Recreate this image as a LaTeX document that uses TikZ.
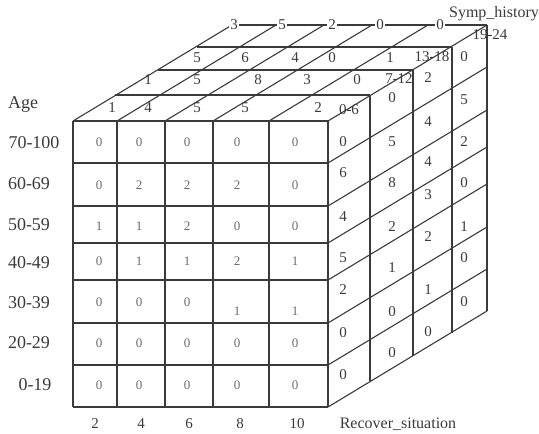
\documentclass[tikz,border=0pt]{standalone}
\usepackage{fontspec}
\setmainfont{Liberation Serif}
\definecolor{linec}{HTML}{3A3A3A}
\definecolor{numc}{HTML}{6A6A6A}
\begin{document}
\begin{tikzpicture}[x=1pt,y=-1pt,
  grid/.style={draw=linec,line width=1.1pt},
  fnum/.style={font=\fontsize{13}{13}\selectfont,text=numc,inner sep=0pt},
  snum/.style={font=\fontsize{15}{15}\selectfont,text=linec,inner sep=0pt},
  bnum/.style={font=\fontsize{15}{15}\selectfont,text=linec,inner sep=1.5pt,fill=white},
  axlab/.style={font=\fontsize{16}{16}\selectfont,text=linec,inner sep=0pt},
  agelab/.style={font=\fontsize{18}{18}\selectfont,text=linec,inner sep=0pt}]
\useasboundingbox (0,0) rectangle (539,434);

% ---- front face
\foreach \x in {73,117,165,213,269,328} \draw[grid] (\x,121) -- (\x,407);
\foreach \y in {121,163,206,243,280,323,365,407} \draw[grid] (73,\y) -- (328,\y);
% ---- top face
\foreach \dx/\dy in {42/-26,85/-51,124/-74,159/-96}
  \draw[grid] (73+\dx,121+\dy) -- (328+\dx,121+\dy);
\foreach \x in {73,117,165,213,269,328} \draw[grid] (\x,121) -- ++(159,-96);
% ---- right face
\foreach \dx/\dy in {42/-26,85/-51,124/-74,159/-96}
  \draw[grid] (328+\dx,121+\dy) -- (328+\dx,407+\dy);
\foreach \y in {163,206,243,280,323,365,407} \draw[grid] (328,\y) -- ++(159,-96);

% ---- front face numbers
\foreach \y/\vals [count=\r] in {142/{0,0,0,0,0},185/{0,2,2,2,0},226/{1,1,2,0,0},261/{0,1,1,2,1},343/{0,0,0,0,0},385/{0,0,0,0,0}}{
  \foreach \v [count=\c] in \vals {
    \pgfmathsetmacro\xx{{99,139,187,237,295}[\c-1]}
    \node[fnum] (f-\r-\c) at (\xx,\y) {\v};
  }
}
\node[fnum] (g-1) at (99,302) {0};
\node[fnum] (g-2) at (139,302) {0};
\node[fnum] (g-3) at (187,302) {0};
\node[fnum] (g-4) at (237,311) {1};
\node[fnum] (g-5) at (295,311) {1};

% ---- top face numbers
\foreach \x/\y/\v [count=\i] in {112/108/1,148/108/4,197/108/5,245/108/5,318/108/2,
  148/80/1,197/80/5,258/80/8,307/80/3,357/80/0,
  197/58/5,245/58/6,295/58/4,332/58/0,390/58/1}
  \node[snum] (t-\i) at (\x,\y) {\v};
\foreach \x/\v [count=\i] in {234/3,282/5,332/2,380/0,440/0}
  \node[bnum] (b-\i) at (\x,25) {\v};

% ---- depth labels
\node[snum] (d-1) at (349,110) {0-6};
\node[snum] (d-2) at (399,79) {7-12};
\node[snum] (d-3) at (432,57) {13-18};
\node[snum] (d-4) at (490,35) {19-24};

% ---- right face numbers
\foreach \x/\y/\v [count=\i] in {
  343/142/0,343/173/6,343/217/4,343/258/5,343/290/2,343/333/0,343/375/0,
  392/98/0,392/142/5,392/183/8,392/227/2,392/268/1,392/312/0,392/353/0,
  428/78/2,428/122/4,428/162/4,428/195/3,428/237/2,428/290/1,428/332/0,
  464/57/0,464/100/5,464/142/2,464/183/0,464/227/1,464/258/0,464/302/0}
  \node[snum] (r-\i) at (\x,\y) {\v};

% ---- axis labels
\node[agelab] (age) at (23,104) {Age};
\foreach \y/\t/\x [count=\i] in {143/70-100/34,184/60-69/29,225/50-59/29,263/40-49/29,303/30-39/29,343/20-29/29,385/0-19/35}
  \node[agelab] (a-\i) at (\x,\y) {\t};
\foreach \x/\t [count=\i] in {95/2,141/4,189/6,240/8,297/10}
  \node[snum] (x-\i) at (\x,424) {\t};
\node[axlab] (rec) at (398,424) {Recover\_situation};
\node[axlab] (symp) at (494,14) {Symp\_history};
\end{tikzpicture}
\end{document}
